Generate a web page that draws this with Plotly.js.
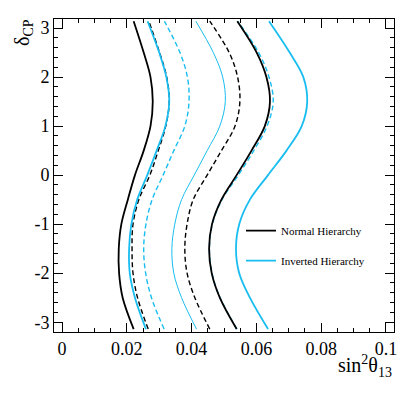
<!DOCTYPE html>
<html>
<head>
<meta charset="utf-8">
<script src="https://cdn.plot.ly/plotly-3.0.1.min.js"></script>
<style>
  body { margin: 0; background: #fff; }
  #chart { width: 415px; height: 395px; }
</style>
</head>
<body>
<div id="chart"></div>
<script>
// delta_CP sample points shared by all contours
const delta = [-3.14, -2.5, -2.0, -1.5, -1.0, -0.5, 0.0, 0.5, 1.0, 1.5, 2.0, 2.5, 3.14];

// sin^2 theta13 for each contour
const nh_inner_solid = [0.0221, 0.0187, 0.0176, 0.0175, 0.0183, 0.0203, 0.0225, 0.0252, 0.0273, 0.0280, 0.0273, 0.0252, 0.0221];
const ih_inner_solid = [0.0259, 0.0225, 0.0209, 0.0207, 0.0214, 0.0232, 0.0263, 0.0292, 0.0319, 0.0331, 0.0322, 0.0300, 0.0264];
const nh_inner_dash = [0.0266, 0.0233, 0.0219, 0.0216, 0.0219, 0.0237, 0.0271, 0.0297, 0.0320, 0.0331, 0.0323, 0.0301, 0.0268];
const ih_inner_dash = [0.0315, 0.0276, 0.0258, 0.0252, 0.0259, 0.0278, 0.0312, 0.0345, 0.0379, 0.0392, 0.0387, 0.0364, 0.0316];
const ih_best = [0.0415, 0.0369, 0.0345, 0.0339, 0.0348, 0.0369, 0.0408, 0.0448, 0.0487, 0.0504, 0.0496, 0.0467, 0.0413];
const nh_outer_dash = [0.0456, 0.0410, 0.0386, 0.0379, 0.0386, 0.0405, 0.0448, 0.0492, 0.0534, 0.0549, 0.0542, 0.0516, 0.0456];
const nh_outer_solid = [0.0539, 0.0487, 0.0462, 0.0454, 0.0463, 0.0492, 0.0539, 0.0585, 0.0626, 0.0642, 0.0631, 0.0601, 0.0541];
const ih_outer_dash = [0.0540, 0.0488, 0.0463, 0.0455, 0.0464, 0.0494, 0.0544, 0.0592, 0.0633, 0.0652, 0.0639, 0.0607, 0.0542];
const ih_outer_solid = [0.0636, 0.0580, 0.0547, 0.0537, 0.0547, 0.0580, 0.0636, 0.0693, 0.0740, 0.0757, 0.0745, 0.0703, 0.0639];

// axis tick labels (plain hyphen minus, as in the original)
const xTicks = [0, 0.02, 0.04, 0.06, 0.08, 0.1];
const xTickText = ['0', '0.02', '0.04', '0.06', '0.08', '0.1'];
const yTicks = [-3, -2, -1, 0, 1, 2, 3];
const yTickText = ['-3', '-2', '-1', '0', '1', '2', '3'];

const black = '#000000';
const cyan = '#19bdf0';

function curve(xs, color, width, dash, name) {
	return {
		x: xs,
		y: delta,
		type: 'scatter',
		mode: 'lines',
		line: { color: color, width: width, dash: dash, shape: 'spline', smoothing: 1 },
		name: name || '',
		showlegend: !!name,
		legendgroup: name || undefined,
		hoverinfo: 'skip'
	};
}

const traces = [
	curve(nh_inner_solid, black, 1.8, 'solid', 'Normal Hierarchy'),
	curve(ih_inner_dash, cyan, 1.4, '5px,3px'),
	curve(ih_best, cyan, 1.0, 'solid'),
	curve(nh_inner_dash, black, 1.4, '5px,3px'),
	curve(nh_outer_dash, black, 1.4, '5px,3px'),
	curve(ih_outer_dash, cyan, 1.4, '5px,3px'),
	curve(nh_outer_solid, black, 1.8, 'solid'),
	curve(ih_inner_solid, cyan, 1.8, 'solid', 'Inverted Hierarchy'),
	curve(ih_outer_solid, cyan, 1.8, 'solid')
];

const serif = "'Liberation Serif', 'Times New Roman', Times, serif";

const layout = {
	width: 415,
	height: 395,
	margin: { l: 54, r: 21, t: 19, b: 63 },
	paper_bgcolor: '#fff',
	plot_bgcolor: '#fff',
	font: { family: serif, color: '#000' },
	showlegend: true,
	legend: {
		x: 0.55, y: 0.37, xanchor: 'left', yanchor: 'top',
		font: { family: serif, size: 11, color: '#000' },
		bgcolor: 'rgba(0,0,0,0)',
		itemwidth: 30,
		tracegroupgap: 11,
		traceorder: 'grouped'
	},
	xaxis: {
		range: [-0.0025, 0.1025],
		tickvals: xTicks,
		ticktext: xTickText,
		ticks: 'inside',
		ticklen: 9,
		tickcolor: '#000',
		mirror: 'allticks',
		showline: true,
		linecolor: '#000',
		linewidth: 1,
		showgrid: false,
		zeroline: false,
		tickfont: { family: serif, size: 18, color: '#000' },
		minor: { dtick: 0.005, tick0: 0, ticks: 'inside', ticklen: 4, tickcolor: '#000', showgrid: false }
	},
	yaxis: {
		range: [-3.2, 3.185],
		tickvals: yTicks,
		ticktext: yTickText,
		ticks: 'inside',
		ticklen: 9,
		tickcolor: '#000',
		mirror: 'allticks',
		showline: true,
		linecolor: '#000',
		linewidth: 1,
		showgrid: false,
		zeroline: false,
		tickfont: { family: serif, size: 18, color: '#000' },
		minor: { dtick: 0.2, tick0: 0, ticks: 'inside', ticklen: 4, tickcolor: '#000', showgrid: false }
	},
	annotations: [
		{
			text: 'sin<sup>2</sup>θ<sub>13</sub>',
			xref: 'paper', yref: 'paper',
			x: 1, y: 0, xanchor: 'right', yanchor: 'top', yshift: -18,
			showarrow: false,
			font: { family: serif, size: 20, color: '#000' }
		},
		{
			text: 'δ<sub>CP</sub>',
			xref: 'paper', yref: 'paper',
			x: 0, y: 1, xanchor: 'right', yanchor: 'top', xshift: -16, yshift: 2,
			textangle: -90,
			showarrow: false,
			font: { family: serif, size: 20, color: '#000' }
		}
	]
};

Plotly.newPlot('chart', traces, layout, { displayModeBar: false, staticPlot: true });
</script>
</body>
</html>
